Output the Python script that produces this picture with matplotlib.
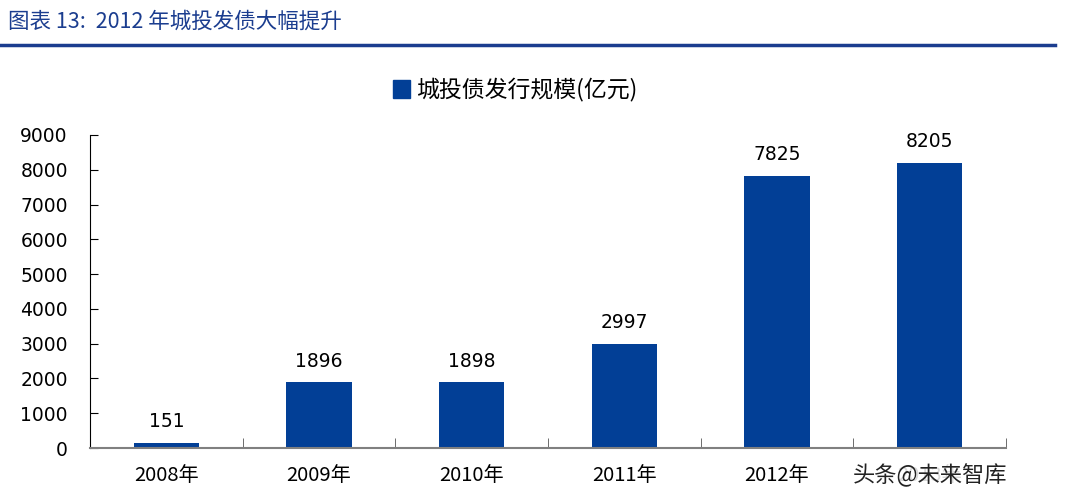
import matplotlib.pyplot as plt
import numpy as np

years = ['2008年', '2009年', '2010年', '2011年', '2012年', '2013年']
issuance = [151, 1896, 1898, 2997, 7825, 8205]
yticks = [0, 1000, 2000, 3000, 4000, 5000, 6000, 7000, 8000, 9000]

bar_color = '#023F96'
title_color = '#1B3D8F'

plt.rcParams['font.family'] = ['DejaVu Sans', 'Noto Sans CJK SC']

fig = plt.figure(figsize=(10.67, 5.03), dpi=100)
ax = fig.add_axes([90 / 1067, 1 - 448 / 503, 916 / 1067, 313 / 503])

x = np.arange(len(years))
ax.bar(x, issuance, width=0.43, color=bar_color, zorder=2)
for xi, v in zip(x, issuance):
    ax.text(xi, v + 330, str(v), ha='center', va='bottom', fontsize=13.5,
            color='black')

ax.set_xlim(-0.5, len(years) - 0.5)
ax.set_ylim(0, 9000)
ax.set_yticks(yticks)
ax.set_yticklabels([str(t) for t in yticks], fontsize=13.5)
ax.set_xticks(x)
ax.set_xticklabels(years, fontsize=14.5, family=['Noto Sans CJK SC', 'DejaVu Sans'])
ax.set_xticks(np.arange(-0.5, len(years)), minor=True)
ax.tick_params(axis='x', which='major', length=0, pad=12)
ax.tick_params(axis='x', which='minor', direction='in', length=7, color='#555555')
ax.tick_params(axis='y', direction='in', length=6, pad=16, color='black')
for s in ['top', 'right']:
    ax.spines[s].set_visible(False)
ax.spines['left'].set_color('black')
ax.spines['bottom'].set_color('#808080')
ax.spines['bottom'].set_linewidth(1.5)

# legend
fig.patches.append(plt.Rectangle((393 / 1067, 1 - 98 / 503), 17 / 1067, 18 / 503,
                                 transform=fig.transFigure, color=bar_color))
fig.text(416 / 1067, 1 - 89 / 503, '城投债发行规模(亿元)', fontsize=16.5,
         va='center', ha='left', family=['Noto Sans CJK SC', 'DejaVu Sans'])

# heading
fig.text(8 / 1067, 1 - 22 / 503, '图表 13:  2012 年城投发债大幅提升', fontsize=15.5,
         style='italic', color=title_color, va='center', ha='left',
         family=['Noto Sans CJK SC', 'DejaVu Sans'])
fig.add_artist(plt.Line2D([0, 1055 / 1067], [1 - 45 / 503, 1 - 45 / 503],
                          transform=fig.transFigure, color=title_color, linewidth=2.5))

# watermark (covers the last category label, as in the source image)
fig.text(853 / 1067, 1 - 475 / 503, '头条@未来智库', fontsize=16, color='#222222',
         va='center', ha='left', family=['Noto Sans CJK SC', 'DejaVu Sans'],
         bbox=dict(facecolor='white', edgecolor='none', pad=1, alpha=0.85))

fig.savefig('out.png', dpi=100)
